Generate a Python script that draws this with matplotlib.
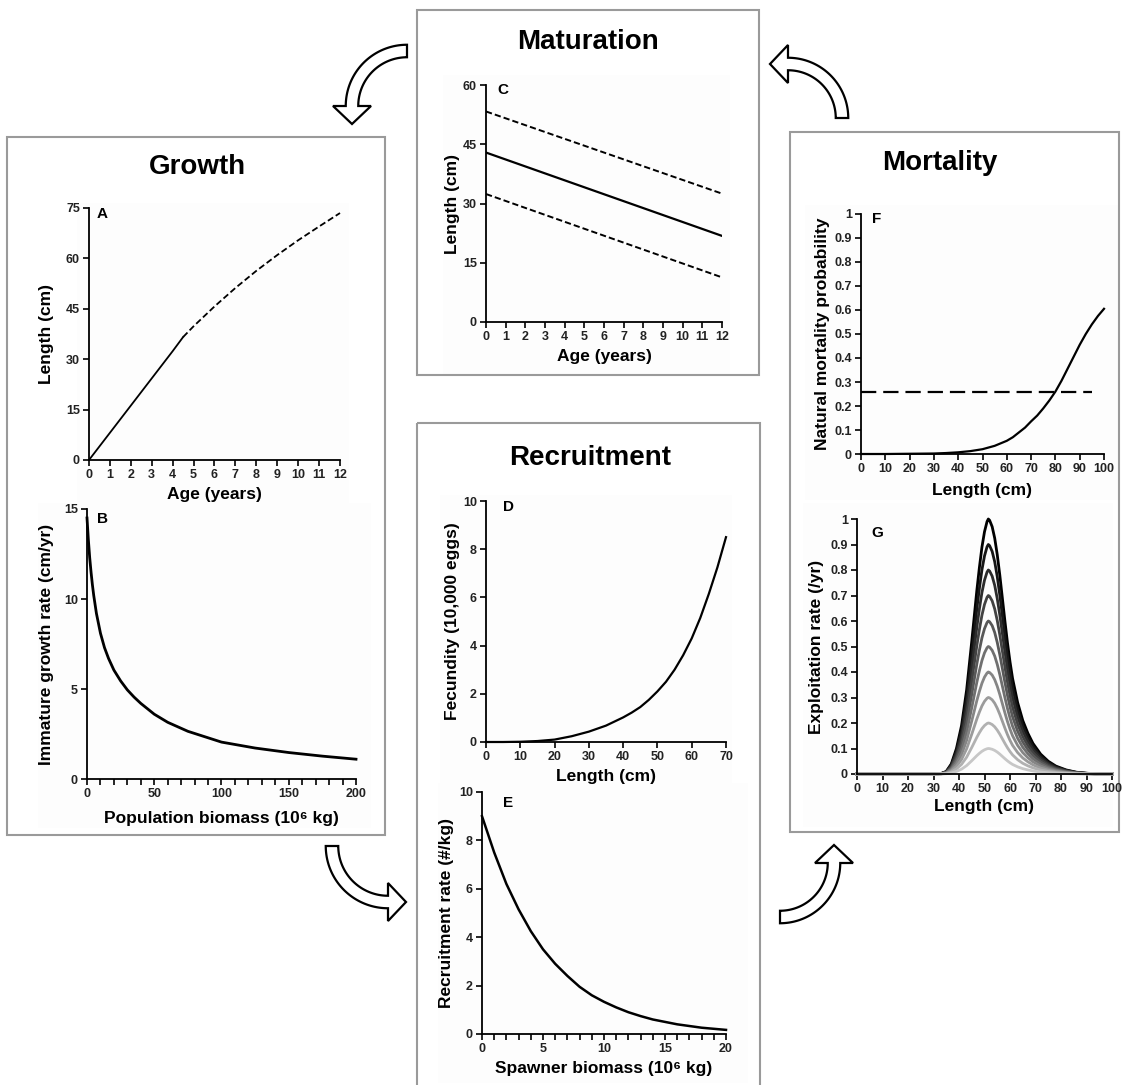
import matplotlib
matplotlib.use("Agg")
import matplotlib.pyplot as plt
from matplotlib.patches import Polygon, Rectangle
import numpy as np

plt.rcParams["font.family"] = ["Liberation Sans", "DejaVu Sans"]
plt.rcParams["font.weight"] = "bold"
plt.rcParams["lines.scale_dashes"] = False

W, H = 1122, 1085

# A: length at age (immature linear phase, then mature phase)
age_immature = [0, 1, 2, 3, 4, 4.5]
len_immature = [0, 8.1, 16.2, 24.3, 32.4, 36.6]
age_mature = [4.5, 5, 6, 7, 8, 9, 10, 11, 12]
len_mature = [36.6, 39.8, 45.7, 51.2, 56.3, 61.0, 65.4, 69.5, 73.5]

# B: immature growth rate vs population biomass
biomass_b = [0, 0.5, 1, 2, 3, 4, 5, 7, 10, 13, 16, 20, 25, 30, 35, 40, 50, 60, 75,
             100, 125, 150, 175, 200]
growth_b = [14.5, 13.9, 13.3, 12.3, 11.5, 10.8, 10.2, 9.2, 8.1, 7.3, 6.7, 6.05, 5.45,
            4.95, 4.55, 4.2, 3.6, 3.15, 2.65, 2.05, 1.72, 1.47, 1.27, 1.1]

# C: maturation reaction norm (midpoint and envelope)
age_c = [0, 12]
mat_upper = [53.3, 32.5]
mat_mid = [42.9, 21.8]
mat_lower = [32.4, 11.3]

# D: fecundity vs length
length_d = [0, 5, 10, 15, 20, 25, 30, 35, 40, 42.5, 45, 47.5, 50, 52.5, 55, 57.5,
            60, 62.5, 65, 67.5, 70]
fecundity = [0, 0, 0.01, 0.04, 0.1, 0.24, 0.43, 0.68, 1.02, 1.22, 1.45, 1.75, 2.1,
             2.5, 3.0, 3.6, 4.3, 5.15, 6.15, 7.25, 8.5]

# E: recruitment rate vs spawner biomass
biomass_e = [0, 1, 2, 3, 4, 5, 6, 7, 8, 9, 10, 11, 12, 13, 14, 16, 18, 20]
recruit = [9.0, 7.5, 6.2, 5.15, 4.25, 3.5, 2.9, 2.4, 1.95, 1.6, 1.33, 1.1, 0.9, 0.74,
           0.6, 0.4, 0.26, 0.17]

# F: natural mortality probability vs length
length_f = [0, 10, 20, 30, 35, 40, 45, 50, 55, 60, 62.5, 65, 67.5, 70, 72.5, 75, 77.5,
            80, 82.5, 85, 87.5, 90, 92.5, 95, 97.5, 100]
mort_f = [0, 0, 0.001, 0.002, 0.004, 0.007, 0.012, 0.02, 0.034, 0.055, 0.07, 0.09,
          0.11, 0.136, 0.16, 0.19, 0.223, 0.26, 0.305, 0.355, 0.405, 0.455, 0.5,
          0.54, 0.575, 0.605]
mort_const_x = [0, 95]
mort_const = 0.26

# G: exploitation rate vs length for a range of fishing intensities
length_g = [0, 30, 33, 35, 37, 39, 41, 43, 45, 46, 47, 48, 49, 50, 51, 51.5, 52, 53,
            54, 55, 56, 57, 58, 59, 60, 61, 63, 65, 67, 69, 72, 75, 78, 82, 86, 90,
            95, 100]
selectivity = [0, 0, 0.002, 0.01, 0.04, 0.10, 0.19, 0.33, 0.52, 0.62, 0.72, 0.81,
               0.89, 0.95, 0.99, 1.0, 0.995, 0.97, 0.925, 0.86, 0.78, 0.69, 0.6,
               0.515, 0.44, 0.375, 0.28, 0.21, 0.16, 0.12, 0.078, 0.05, 0.031,
               0.016, 0.007, 0.003, 0, 0]
exploit_levels = [0.1, 0.2, 0.3, 0.4, 0.5, 0.6, 0.7, 0.8, 0.9, 1.0]

prob_ticks = [0, 0.1, 0.2, 0.3, 0.4, 0.5, 0.6, 0.7, 0.8, 0.9, 1.0]

fig = plt.figure(figsize=(W / 100, H / 100), dpi=100)
fig.patch.set_facecolor("white")

# full-figure overlay in pixel units for boxes, titles and arrows
ov = fig.add_axes([0, 0, 1, 1])
ov.set_xlim(0, W)
ov.set_ylim(H, 0)
ov.axis("off")

# faint backing tiles behind each chart
for x, y, w, h in [(77, 203, 272, 300), (38, 503, 333, 325), (443, 75, 287, 300),
                   (440, 495, 292, 288), (438, 783, 310, 300), (805, 205, 313, 295),
                   (803, 503, 310, 324)]:
    ov.add_patch(Rectangle((x, y), w, h, fc="#fdfdfd", ec="none"))

boxes = {
    "Growth": (7, 137, 378, 698, 197, 167),
    "Maturation": (417, 10, 342, 365, 588, 42),
    "Recruitment": (417, 423, 343, 680, 590, 458),
    "Mortality": (790, 132, 329, 700, 940, 163),
}
for name, (x, y, w, h, tx, ty) in boxes.items():
    ov.add_patch(Rectangle((x, y), w, h, fill=False, ec="#9a9a9a", lw=1.5))
    ov.text(tx, ty, name, ha="center", va="center", fontsize=20, fontweight="bold")


def curved_arrow(cx, cy, r, th_tail, th_head, band=12.5, head_w=38, head_len=18):
    th = np.radians(np.linspace(th_tail, th_head, 60))
    ro, ri = r + band / 2, r - band / 2
    outer = np.c_[cx + ro * np.cos(th), cy + ro * np.sin(th)]
    inner = np.c_[cx + ri * np.cos(th), cy + ri * np.sin(th)][::-1]
    t = th[-1]
    d = np.sign(th_head - th_tail)
    heading = np.array([-np.sin(t) * d, np.cos(t) * d])
    radial = np.array([np.cos(t), np.sin(t)])
    base = np.array([cx, cy]) + r * radial
    pts = np.vstack([outer, base + head_w / 2 * radial, base + head_len * heading,
                     base - head_w / 2 * radial, inner])
    ov.add_patch(Polygon(pts, closed=True, fc="white", ec="black", lw=1.6,
                         joinstyle="miter"))


curved_arrow(407, 106, 55, 270, 180)
curved_arrow(788, 118, 54, 360, 270)
curved_arrow(388, 846, 56, 180, 90)
curved_arrow(780, 863, 54, 90, 0)


def panel(rect, letter, letter_xy, xlabel, xlabel_y, ylabel, ylabel_x):
    l, r, t, b = rect
    ax = fig.add_axes([l / W, 1 - b / H, (r - l) / W, (b - t) / H])
    ax.set_facecolor("none")
    for s in ("top", "right"):
        ax.spines[s].set_visible(False)
    for s in ("left", "bottom"):
        ax.spines[s].set_linewidth(1.3)
    ax.tick_params(which="both", direction="out", length=4, width=1.2,
                   labelsize=9, pad=2.5, labelcolor="#222222")
    ax.set_xlabel(xlabel, fontsize=12.5, fontweight="bold", va="center")
    ax.xaxis.set_label_coords(0.5, (b - xlabel_y) / (b - t))
    ax.set_ylabel(ylabel, fontsize=12.5, fontweight="bold", va="center")
    ax.yaxis.set_label_coords((ylabel_x - l) / (r - l), 0.5)
    lx, ly = letter_xy
    ax.text((lx - l) / (r - l), (b - ly) / (b - t), letter, transform=ax.transAxes,
            ha="center", va="center", fontsize=11, fontweight="bold")
    return ax


# A
ax = panel((89, 340, 208, 460), "A", (102, 214), "Age (years)", 495, "Length (cm)", 47)
ax.plot(age_immature, len_immature, color="black", lw=1.3, clip_on=False)
ax.plot(age_mature, len_mature, color="black", lw=1.3, dashes=(4.5, 2.2), clip_on=False)
ax.set_xlim(0, 12)
ax.set_ylim(0, 75)
ax.set_xticks(range(0, 13))
ax.set_yticks(range(0, 76, 15))

# B
ax = panel((87, 356, 509, 779), "B", (103, 519), "Population biomass (10⁶ kg)", 818,
           "Immature growth rate (cm/yr)", 47)
ax.plot(biomass_b, growth_b, color="black", lw=2.0, clip_on=False)
ax.set_xlim(0, 200)
ax.set_ylim(0, 15)
ax.set_xticks(range(0, 201, 50))
ax.set_xticks(range(0, 201, 10), minor=True)
ax.set_yticks([0, 5, 10, 15])

# C
ax = panel((486, 722, 85, 322), "C", (503, 90), "Age (years)", 357, "Length (cm)", 453)
ax.plot(age_c, mat_upper, color="black", lw=1.4, dashes=(4.5, 2.2))
ax.plot(age_c, mat_mid, color="black", lw=1.6)
ax.plot(age_c, mat_lower, color="black", lw=1.4, dashes=(4.5, 2.2))
ax.set_xlim(0, 12)
ax.set_ylim(0, 60)
ax.set_xticks(range(0, 13))
ax.set_yticks(range(0, 61, 15))

# D
ax = panel((486, 726, 501, 742), "D", (509, 507), "Length (cm)", 776,
           "Fecundity (10,000 eggs)", 452)
ax.plot(length_d, fecundity, color="black", lw=1.6, clip_on=False)
ax.set_xlim(0, 70)
ax.set_ylim(0, 10)
ax.set_xticks(range(0, 71, 10))
ax.set_yticks(range(0, 11, 2))

# E
ax = panel((482, 726, 792, 1034), "E", (508, 803), "Spawner biomass (10⁶ kg)", 1068,
           "Recruitment rate (#/kg)", 447)
ax.plot(biomass_e, recruit, color="black", lw=1.8, clip_on=False)
ax.set_xlim(0, 20)
ax.set_ylim(0, 10)
ax.set_xticks(range(0, 21, 5))
ax.set_xticks(range(0, 21, 1), minor=True)
ax.set_yticks(range(0, 11, 2))

# F
ax = panel((861, 1104, 214, 454), "F", (877, 219), "Length (cm)", 490,
           "Natural mortality probability", 823)
ax.plot(length_f, mort_f, color="black", lw=1.6, clip_on=False)
ax.plot(mort_const_x, [mort_const] * 2, color="black", lw=1.6, dashes=(11, 5))
ax.set_xlim(0, 100)
ax.set_ylim(0, 1)
ax.set_xticks(range(0, 101, 10))
ax.set_yticks(prob_ticks)
ax.set_yticklabels([f"{v:g}" for v in prob_ticks])

# G
ax = panel((857, 1112, 519, 774), "G", (877, 533), "Length (cm)", 807,
           "Exploitation rate (/yr)", 817)
shades = np.linspace(0.0, 0.78, len(exploit_levels))
for level, shade in zip(exploit_levels[::-1], shades):
    ax.plot(length_g, level * np.array(selectivity), color=str(shade), lw=2.0,
            clip_on=False)
ax.set_xlim(0, 100)
ax.set_ylim(0, 1)
ax.set_xticks(range(0, 101, 10))
ax.set_yticks(prob_ticks)
ax.set_yticklabels([f"{v:g}" for v in prob_ticks])

fig.savefig("out.png", dpi=100, facecolor="white")
